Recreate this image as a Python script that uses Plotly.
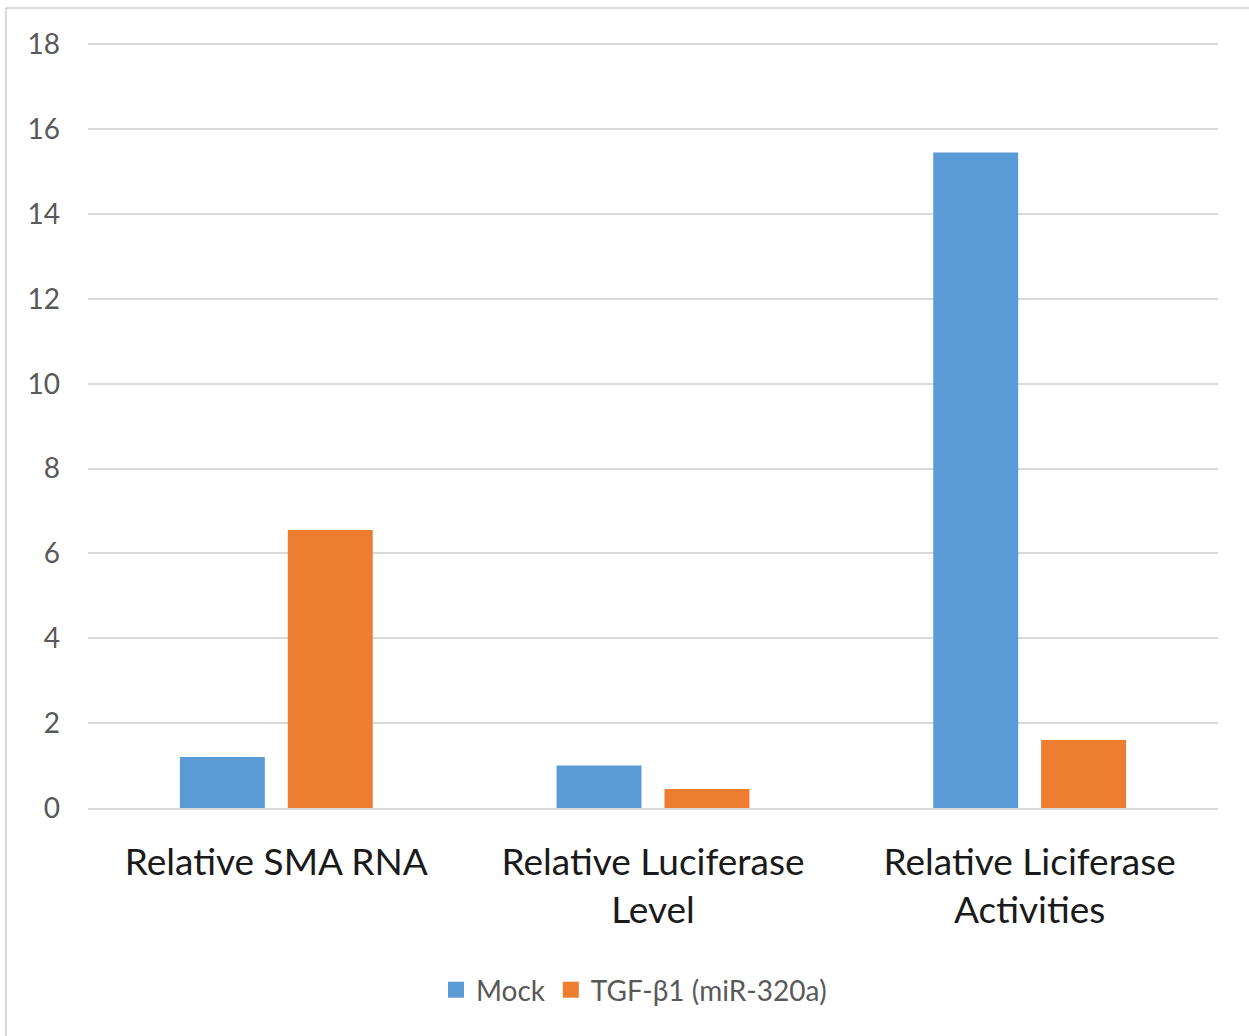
import plotly.graph_objects as go

categories = ["Relative SMA RNA", "Relative Luciferase<br>Level", "Relative Liciferase<br>Activities"]
mock_values = [1.2, 1.0, 15.45]
tgf_values = [6.55, 0.45, 1.6]
series_names = ["Mock", "TGF-β1 (miR-320a)"]
series_colors = ["#5B9BD5", "#ED7D31"]
y_ticks = [0, 2, 4, 6, 8, 10, 12, 14, 16, 18]

W, H = 1249, 1036
L, R, T, B = 88, 31, 43, 228
pw, ph = W - L - R, H - T - B

fig = go.Figure()
for vals, name, col in zip([mock_values, tgf_values], series_names, series_colors):
    fig.add_trace(go.Bar(x=categories, y=vals, name=name, showlegend=False,
                         marker=dict(color=col, line=dict(width=0))))
# legend entries with larger square symbols
for name, col in zip(series_names, series_colors):
    fig.add_trace(go.Scatter(x=[None], y=[None], mode="markers", name=name,
                             marker=dict(symbol="square", size=17, color=col)))

font = "Lato, Calibri, Carlito, sans-serif"

def px_x(p):
    return (p - L) / pw

def px_y(p):
    return (H - B - p) / ph

fig.update_layout(
    width=W, height=H,
    margin=dict(l=L, r=R, t=T, b=B, pad=0),
    paper_bgcolor="white", plot_bgcolor="white",
    barmode="group", bargap=0.427, bargroupgap=0.213,
    font=dict(family=font),
    showlegend=True,
    legend=dict(orientation="h", x=px_x(634), xanchor="center", y=px_y(990), yanchor="middle",
                font=dict(size=28, color="#595959", family=font),
                itemwidth=30, traceorder="normal", tracegroupgap=0),
    xaxis=dict(showgrid=False, showline=True, linecolor="#D9D9D9", linewidth=1.5,
               ticks="", tickfont=dict(size=37, color="#1a1a1a", family=font),
               ticklabelstandoff=21),
    yaxis=dict(range=[0, 18.03], tickvals=y_ticks, showgrid=True, gridcolor="#D9D9D9",
               gridwidth=1.5, zeroline=False, showline=False, ticks="",
               tickfont=dict(size=28, color="#595959", family=font),
               ticklabelstandoff=27),
    shapes=[
        dict(type="line", xref="paper", yref="paper", x0=px_x(6), x1=px_x(1260),
             y0=px_y(8), y1=px_y(8), line=dict(color="#D9D9D9", width=2)),
        dict(type="line", xref="paper", yref="paper", x0=px_x(6), x1=px_x(6),
             y0=px_y(8), y1=px_y(1050), line=dict(color="#D9D9D9", width=2)),
    ],
)

fig.write_html("out.html")
